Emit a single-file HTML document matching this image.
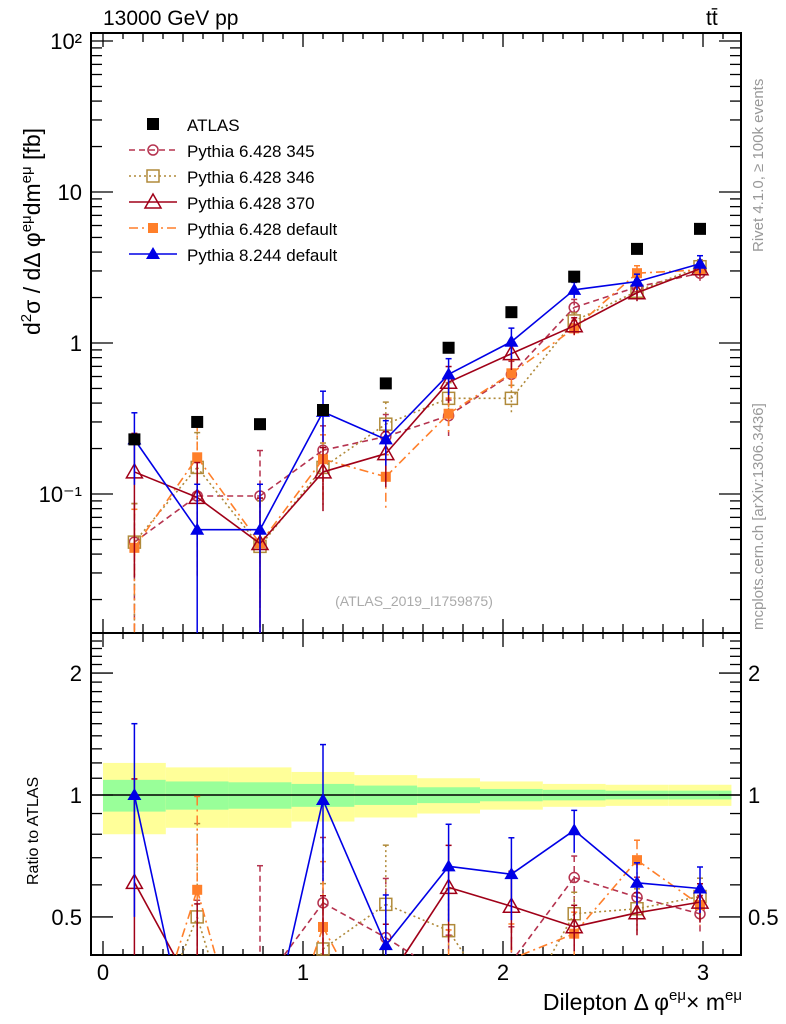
<!DOCTYPE html>
<html><head><meta charset="utf-8"><style>
html,body{margin:0;padding:0;background:#fff;width:786px;height:1024px;overflow:hidden;}
svg{display:block;font-family:"Liberation Sans",sans-serif;overflow:hidden;}
</style></head><body>
<svg id="chart" width="786" height="1024" xmlns="http://www.w3.org/2000/svg"></svg>
<script>
const binCenters=[0.157,0.471,0.785,1.100,1.414,1.728,2.042,2.356,2.670,2.985];
const atlasVals=[0.23,0.30,0.29,0.36,0.54,0.93,1.6,2.75,4.2,5.7];
const p345Vals=[0.048,0.097,0.097,0.195,0.24,0.33,0.62,1.72,2.35,2.9];
const p346Vals=[0.048,0.15,0.045,0.15,0.29,0.43,0.43,1.4,2.2,3.2];
const p370Vals=[0.14,0.095,0.047,0.14,0.185,0.55,0.85,1.3,2.15,3.1];
const pdefVals=[0.044,0.175,0.047,0.17,0.13,0.34,0.63,1.25,2.9,3.05];
const p8Vals=[0.23,0.058,0.058,0.35,0.23,0.62,1.02,2.25,2.55,3.35];
const mcRelErr=[0.8,0.7,1.0,0.45,0.4,0.27,0.22,0.13,0.12,0.11];
const p8RelErr=[0.5,1.0,1.0,0.37,0.33,0.27,0.23,0.12,0.12,0.13];
const bandYellow=[0.2,0.17,0.17,0.14,0.12,0.1,0.08,0.065,0.06,0.06];
const bandGreen=[0.09,0.08,0.075,0.065,0.055,0.045,0.035,0.03,0.025,0.025];
const mainYTicks=["10\u207B\u00B9","1","10","10\u00B2"];
const ratioYTicks=["0.5","1","2"];
const xTickLabels=["0","1","2","3"];

const NS="http://www.w3.org/2000/svg";
const svg=document.getElementById('chart');
function el(tag,attrs,parent){const e=document.createElementNS(NS,tag);for(const k in attrs)e.setAttribute(k,attrs[k]);(parent||svg).appendChild(e);return e;}
const L=91,R=741,MT=33,MB=633,RB=955;
const xs=v=>103+v*200;
const ys=v=>343-Math.log10(v)*151;
const yr=v=>795-Math.log10(v)*405;
const binW=Math.PI/10;
const clamp=(y,a,b)=>Math.max(a,Math.min(b,y));

const gb=el('g',{});

binCenters.forEach((c,i)=>{
  const x0=xs(c-binW/2),x1=xs(c+binW/2);
  const r1=el('rect',{x:x0,y:yr(1+bandYellow[i]),width:x1-x0,height:yr(1-bandYellow[i])-yr(1+bandYellow[i]),fill:'#ffff99'},gb);
  
  const r2=el('rect',{x:x0,y:yr(1+bandGreen[i]),width:x1-x0,height:yr(1-bandGreen[i])-yr(1+bandGreen[i]),fill:'#99ff99'},gb);
  
});
const one=el('line',{x1:L,x2:R,y1:yr(1),y2:yr(1),stroke:'#000','stroke-width':1.5});


const f1=el('rect',{x:L,y:MT,width:R-L,height:MB-MT,fill:'none',stroke:'#000','stroke-width':2});

const f2=el('rect',{x:L,y:MB,width:R-L,height:RB-MB,fill:'none',stroke:'#000','stroke-width':2});


for(let k=0;k<=31;k++){
  const v=k/10,x=xs(v);if(x>R)break;
  const len=(k%10==0)?14:(k%2==0?9:6);
  [[MB,-1],[MT,1],[RB,-1],[MB,1]].forEach(([y,d])=>el('line',{x1:x,x2:x,y1:y,y2:y+d*len,stroke:'#000','stroke-width':1.3}));
}
xTickLabels.forEach((t,i)=>{const e=el('text',{x:xs(i),y:980,'font-size':22,'text-anchor':'middle'});e.textContent=t;
  });
for(let d=-2;d<=2;d++){for(let m=1;m<=9;m++){const v=m*Math.pow(10,d);const y=ys(v);if(y<MT||y>MB)continue;
  const len=m==1?22:11;
  el('line',{x1:L,x2:L+len,y1:y,y2:y,stroke:'#000','stroke-width':1.3});
  el('line',{x1:R,x2:R-len,y1:y,y2:y,stroke:'#000','stroke-width':1.3});}}
[-1,0,1,2].forEach((d,i)=>{const e=el('text',{x:82,y:ys(Math.pow(10,d))+8,'font-size':22,'text-anchor':'end'});e.textContent=mainYTicks[i];
  });
[0.4,0.5,0.6,0.7,0.8,0.9,1,1.1,1.2,1.3,1.4,1.5,1.6,1.7,1.8,1.9,2,2.1,2.2,2.3,2.4].forEach(v=>{const y=yr(v);if(y<MB||y>RB)return;
  const len=(Math.abs(v-0.5)<1e-6||Math.abs(v-1)<1e-6||Math.abs(v-2)<1e-6)?22:11;
  el('line',{x1:L,x2:L+len,y1:y,y2:y,stroke:'#000','stroke-width':1.3});
  el('line',{x1:R,x2:R-len,y1:y,y2:y,stroke:'#000','stroke-width':1.3});});
[0.5,1,2].forEach((v,i)=>{
  const a=el('text',{x:82,y:yr(v)+8,'font-size':22,'text-anchor':'end'});a.textContent=ratioYTicks[i];
  
  const b=el('text',{x:748,y:yr(v)+8,'font-size':22});b.textContent=ratioYTicks[i];
  });

const series=[
 {name:'pythia-6428-345',vals:p345Vals,err:mcRelErr,color:'#b5334f',dash:'6,4',mk:'circle'},
 {name:'pythia-6428-346',vals:p346Vals,err:mcRelErr,color:'#b08a3a',dash:'2,3',mk:'square'},
 {name:'pythia-6428-default',vals:pdefVals,err:mcRelErr,color:'#ff7f2a',dash:'9,4,2,4',mk:'fsquare'},
 {name:'pythia-6428-370',vals:p370Vals,err:mcRelErr,color:'#a00018',dash:'',mk:'tri'},
 {name:'pythia-8244-default',vals:p8Vals,err:p8RelErr,color:'#0000e6',dash:'',mk:'ftri'}];
function marker(g,mk,x,y,c){
  if(mk=='circle')return el('circle',{cx:x,cy:y,r:5,fill:'none',stroke:c,'stroke-width':1.5},g);
  if(mk=='square')return el('rect',{x:x-6,y:y-6,width:12,height:12,fill:'none',stroke:c,'stroke-width':1.5},g);
  if(mk=='fsquare')return el('rect',{x:x-5,y:y-5,width:10,height:10,fill:c},g);
  if(mk=='tri')return el('polygon',{points:`${x},${y-8} ${x-8},${y+6} ${x+8},${y+6}`,fill:'none',stroke:c,'stroke-width':1.5},g);
  if(mk=='ftri')return el('polygon',{points:`${x},${y-7} ${x-7},${y+5} ${x+7},${y+5}`,fill:c},g);
  if(mk=='atlas')return el('rect',{x:x-6,y:y-6,width:12,height:12,fill:c},g);
}
// clip a segment to y range [top,bot]; returns null if fully outside
function clipSeg(x1,y1,x2,y2,top,bot){
  let t0=0,t1=1;const dy=y2-y1;
  if(dy===0){if(y1<top||y1>bot)return null;return [x1,y1,x2,y2];}
  let ta=(top-y1)/dy,tb=(bot-y1)/dy;if(ta>tb)[ta,tb]=[tb,ta];
  t0=Math.max(t0,ta);t1=Math.min(t1,tb);if(t0>t1)return null;
  return [x1+(x2-x1)*t0,y1+dy*t0,x1+(x2-x1)*t1,y1+dy*t1];
}
function drawSeries(s,ratio){
  const g=el('g',{});
  
  const Y=ratio?yr:ys;
  const top=ratio?MB:MT, bot=ratio?RB:MB;
  const vals=s.vals.map((v,i)=>ratio?v/atlasVals[i]:v);
  const pts=vals.map((v,i)=>[xs(binCenters[i]),Y(v)]);
  for(let i=0;i<pts.length-1;i++){
    const c=clipSeg(pts[i][0],pts[i][1],pts[i+1][0],pts[i+1][1],top,bot);
    if(!c)continue;
    const ln=el('line',{x1:c[0],y1:c[1],x2:c[2],y2:c[3],stroke:s.color,'stroke-width':1.6,'stroke-dasharray':s.dash},g);
    
  }
  vals.forEach((v,i)=>{
    const x=xs(binCenters[i]);const e=s.err[i];
    const hiRaw=Y(v*(1+e));
    const loRaw=(1-e)>0.001?Y(v*(1-e)):bot+100;
    if(hiRaw>bot||loRaw<top)return;
    const hi=clamp(hiRaw,top,bot),lo=clamp(loRaw,top,bot);
    const eb=el('line',{x1:x,x2:x,y1:hi,y2:lo,stroke:s.color,'stroke-width':1.5,'stroke-dasharray':s.dash},g);
    
    if(hiRaw>=top)el('line',{x1:x-3,x2:x+3,y1:hi,y2:hi,stroke:s.color,'stroke-width':1.5},g);
    const my=Y(v);
    if(my>=top && my<=bot){
      const m=marker(g,s.mk,x,my,s.color);
      
    }
  });
}
series.forEach(s=>{drawSeries(s,false);drawSeries(s,true);});
const ga=el('g',{});

atlasVals.forEach((v,i)=>{const m=marker(ga,'atlas',xs(binCenters[i]),ys(v),'#000');
  });

const leg=el('g',{});
const legItems=[{label:'ATLAS'},
 {label:'Pythia 6.428 345',s:series[0]},{label:'Pythia 6.428 346',s:series[1]},{label:'Pythia 6.428 370',s:series[3]},
 {label:'Pythia 6.428 default',s:series[2]},{label:'Pythia 8.244 default',s:series[4]}];
legItems.forEach((it,i)=>{
  const y=124+i*26;const g=el('g',{},leg);
  if(it.s){el('line',{x1:129,x2:177,y1:y,y2:y,stroke:it.s.color,'stroke-width':1.6,'stroke-dasharray':it.s.dash},g);marker(g,it.s.mk,153,y,it.s.color);}
  else marker(g,'atlas',153,y,'#000');
  const t=el('text',{x:187,y:y+7,'font-size':17},g);t.textContent=it.label;
});

function txt(s,attrs,name){const t=el('text',attrs);t.textContent=s;return t;}
txt('13000 GeV pp',{x:103,y:25,'font-size':21},'plot-title');
txt('tt\u0304',{x:706,y:25,'font-size':21},'process-label');
txt('(ATLAS_2019_I1759875)',{x:414,y:606,'font-size':14,'text-anchor':'middle',fill:'#aaa'},'analysis-id');
txt('Rivet 4.1.0, \u2265 100k events',{x:0,y:0,'font-size':15,fill:'#999',transform:'translate(763,252) rotate(-90)'},'rivet-label');
txt('mcplots.cern.ch [arXiv:1306.3436]',{x:0,y:0,'font-size':15,fill:'#999',transform:'translate(763,630) rotate(-90)'},'mcplots-label');
const yt=el('text',{x:0,y:0,'font-size':23,transform:'translate(40,335) rotate(-90)'});

yt.innerHTML='d<tspan font-size="15" dy="-9">2</tspan><tspan dy="9">σ / dΔ φ</tspan><tspan font-size="15" dy="-9">eμ</tspan><tspan dy="9">dm</tspan><tspan font-size="15" dy="-9">eμ</tspan><tspan dy="9"> [fb]</tspan>';
txt('Ratio to ATLAS',{x:0,y:0,'font-size':16,transform:'translate(38,885) rotate(-90)'},'ratio-y-axis-title');
const xt=el('text',{x:742,y:1010,'font-size':23,'text-anchor':'end'});

xt.innerHTML='Dilepton Δ φ<tspan font-size="15" dy="-10">eμ</tspan><tspan dy="10">× m</tspan><tspan font-size="15" dy="-10">eμ</tspan>';
</script>
</body></html>
